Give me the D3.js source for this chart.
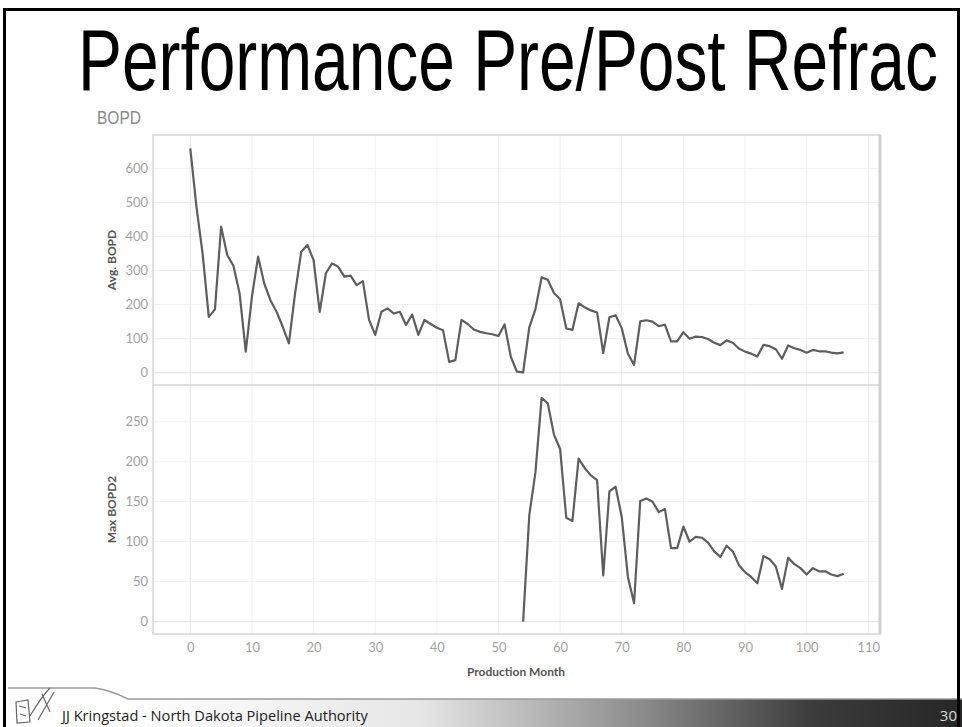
<!DOCTYPE html>
<html>
<head>
<meta charset="utf-8">
<script src="https://cdn.jsdelivr.net/npm/d3@7"></script>
<style>
  body { margin: 0; background: #fff; }
  svg { display: block; }
  .tick text { fill: #a3a3a3; font-family: Lato, "Open Sans", sans-serif; font-size: 13px; }
  .axis .domain { display: none; }
  .axis line { display: none; }
</style>
</head>
<body>
<div id="slide"></div>
<script>
// data
var months = d3.range(0, 107);
var avgBopd = [659, 487, 350, 164, 186, 429, 345, 314, 233, 62,
               223, 341, 262, 213, 179, 135, 86, 233, 355, 375,
               331, 179, 292, 321, 311, 282, 285, 257, 269, 155,
               111, 179, 189, 174, 179, 140, 171, 111, 155, 143,
               132, 125, 32, 37, 155, 143, 127, 120, 116, 113,
               108, 142, 47, 3, 1, 133, 187, 280, 273, 234,
               216, 130, 126, 204, 192, 183, 177, 58, 163, 169,
               131, 56, 23, 151, 154, 150, 137, 141, 92, 92,
               119, 100, 106, 105, 99, 88, 81, 95, 88, 71,
               62, 56, 48, 82, 78, 69, 41, 80, 72, 67,
               59, 67, 63, 63, 59, 57, 60];
var refracMonths = d3.range(54, 107);
var maxBopd2 = [0, 133, 187, 280, 273, 234,
                216, 130, 126, 204, 192, 183, 177, 58, 163, 169,
                131, 56, 23, 151, 154, 150, 137, 141, 92, 92,
                119, 100, 106, 105, 99, 88, 81, 95, 88, 71,
                62, 56, 48, 82, 78, 69, 41, 80, 72, 67,
                59, 67, 63, 63, 59, 57, 60];
var monthTicks = d3.range(0, 111, 10);
var avgTicks = d3.range(0, 601, 100);
var maxTicks = d3.range(0, 251, 50);

var width = 962, height = 727;
var svg = d3.select("#slide").append("svg").attr("width", width).attr("height", height);

// panel frame
var plotLeft = 153, plotRight = 880,
    topPanel = {top: 135, bottom: 385},
    botPanel = {top: 385, bottom: 634};

var x = d3.scaleLinear().domain([-6.05, 111.9]).range([plotLeft, plotRight]);
var yTop = d3.scaleLinear().domain([-36, 698]).range([topPanel.bottom, topPanel.top]);
var yBot = d3.scaleLinear().domain([-15.4, 296]).range([botPanel.bottom, botPanel.top]);

// squeeze a text horizontally so it spans a given width (slide text is condensed)
function fitText(sel, tx, ty, w) {
    var natural = sel.node().getComputedTextLength();
    sel.attr("transform", "translate(" + tx + "," + ty + ") scale(" + (w / natural) + ",1)");
}

// footer band
var defs = svg.append("defs");
var grad = defs.append("linearGradient").attr("id", "footGrad");
grad.append("stop").attr("offset", "0").attr("stop-color", "#ffffff");
grad.append("stop").attr("offset", "0.35").attr("stop-color", "#e6e6e6");
grad.append("stop").attr("offset", "0.62").attr("stop-color", "#8a8a8a");
grad.append("stop").attr("offset", "0.82").attr("stop-color", "#3c3c3c");
grad.append("stop").attr("offset", "1").attr("stop-color", "#262626");

svg.append("path")
    .attr("d", "M128,699 L962,699 L962,727 L128,727 Z")
    .attr("fill", "url(#footGrad)");
svg.append("path")
    .attr("d", "M8,688 L95,688 Q110,690 128,699 L962,699")
    .attr("fill", "none").attr("stroke", "#9a9a9a").attr("stroke-width", 1.5);

// rough logo sketch
var logo = svg.append("g").attr("transform", "translate(14,686)")
    .attr("fill", "none").attr("stroke", "#666").attr("stroke-width", 1.2);
logo.append("path").attr("d", "M2,16 L14,14 L16,36 L3,37 Z");
logo.append("path").attr("d", "M16,30 Q28,10 36,2 M24,34 Q32,20 40,6 M28,8 L36,26");
logo.append("path").attr("d", "M5,20 L12,22 M6,28 L12,30");

var footText = svg.append("text")
    .style("font-family", "'Open Sans', sans-serif").style("font-size", "15px")
    .style("fill", "#222")
    .text("JJ Kringstad - North Dakota Pipeline Authority");
fitText(footText, 62, 721, 306);

svg.append("text")
    .attr("x", 957).attr("y", 721).attr("text-anchor", "end")
    .style("font-family", "'Open Sans', sans-serif").style("font-size", "15px")
    .style("fill", "#d8d8d8")
    .text("30");

// slide frame
svg.append("path")
    .attr("d", "M4.5,727 L4.5,9.5 L958.5,9.5 L958.5,727")
    .attr("fill", "none").attr("stroke", "#000").attr("stroke-width", 3);

// title
var title = svg.append("text")
    .style("font-family", "'Liberation Sans', Arial, sans-serif").style("font-size", "88px")
    .style("fill", "#000")
    .text("Performance Pre/Post Refrac");
fitText(title, 78, 90, 860);

var bopd = svg.append("text")
    .style("font-family", "'Liberation Sans', Arial, sans-serif").style("font-size", "18px")
    .style("fill", "#8a8a8a")
    .text("BOPD");
fitText(bopd, 97, 124, 44);

// gridlines
var grid = svg.append("g");
grid.selectAll(".vgrid").data(monthTicks).enter().append("line")
    .attr("class", "vgrid")
    .attr("x1", d => x(d)).attr("x2", d => x(d))
    .attr("y1", topPanel.top).attr("y2", botPanel.bottom)
    .attr("stroke", d => d == 0 ? "#e2e2e2" : "#f0f0f0").attr("stroke-width", 1);
grid.selectAll(".hgridTop").data(avgTicks).enter().append("line")
    .attr("class", "hgridTop")
    .attr("x1", plotLeft).attr("x2", plotRight)
    .attr("y1", d => yTop(d)).attr("y2", d => yTop(d))
    .attr("stroke", d => d == 0 ? "#e2e2e2" : "#f0f0f0").attr("stroke-width", 1);
grid.selectAll(".hgridBot").data(maxTicks).enter().append("line")
    .attr("class", "hgridBot")
    .attr("x1", plotLeft).attr("x2", plotRight)
    .attr("y1", d => yBot(d)).attr("y2", d => yBot(d))
    .attr("stroke", d => d == 0 ? "#e2e2e2" : "#f0f0f0").attr("stroke-width", 1);

// panel borders
svg.append("rect")
    .attr("x", plotLeft).attr("y", topPanel.top)
    .attr("width", plotRight - plotLeft).attr("height", botPanel.bottom - topPanel.top)
    .attr("fill", "none").attr("stroke", "#d6d6d6").attr("stroke-width", 1.5);
svg.append("line")
    .attr("x1", plotLeft).attr("x2", plotRight)
    .attr("y1", topPanel.bottom).attr("y2", topPanel.bottom)
    .attr("stroke", "#d6d6d6").attr("stroke-width", 1.5);
svg.append("line")
    .attr("x1", plotRight).attr("x2", plotRight)
    .attr("y1", topPanel.top).attr("y2", botPanel.bottom)
    .attr("stroke", "#d0d0d0").attr("stroke-width", 3);

// axes
svg.append("g").attr("class", "axis")
    .attr("transform", "translate(148,0)")
    .call(d3.axisLeft(yTop).tickValues(avgTicks).tickSize(0).tickPadding(0));
svg.append("g").attr("class", "axis")
    .attr("transform", "translate(148,0)")
    .call(d3.axisLeft(yBot).tickValues(maxTicks).tickSize(0).tickPadding(0));
svg.append("g").attr("class", "axis")
    .attr("transform", "translate(0,643)")
    .call(d3.axisBottom(x).tickValues(monthTicks).tickSize(0).tickPadding(0));

// axis titles
function axisTitle(txt, tx, ty, rot) {
    svg.append("text")
        .attr("transform", "translate(" + tx + "," + ty + ")" + (rot ? " rotate(-90)" : ""))
        .attr("text-anchor", "middle")
        .style("font-family", "Lato, 'Open Sans', sans-serif").style("font-size", "12px")
        .style("font-weight", "bold").style("fill", "#555")
        .text(txt);
}
axisTitle("Avg. BOPD", 116, (topPanel.top + topPanel.bottom) / 2, true);
axisTitle("Max BOPD2", 116, (botPanel.top + botPanel.bottom) / 2, true);
axisTitle("Production Month", 516, 676, false);

// lines
var lineTop = d3.line().x((d, i) => x(months[i])).y(d => yTop(d));
var lineBot = d3.line().x((d, i) => x(refracMonths[i])).y(d => yBot(d));

svg.append("path").datum(avgBopd)
    .attr("fill", "none").attr("stroke", "#5e5e5e").attr("stroke-width", 2.2)
    .attr("stroke-linejoin", "round")
    .attr("d", lineTop);
svg.append("path").datum(maxBopd2)
    .attr("fill", "none").attr("stroke", "#5e5e5e").attr("stroke-width", 2.2)
    .attr("stroke-linejoin", "round")
    .attr("d", lineBot);
</script>
</body>
</html>
